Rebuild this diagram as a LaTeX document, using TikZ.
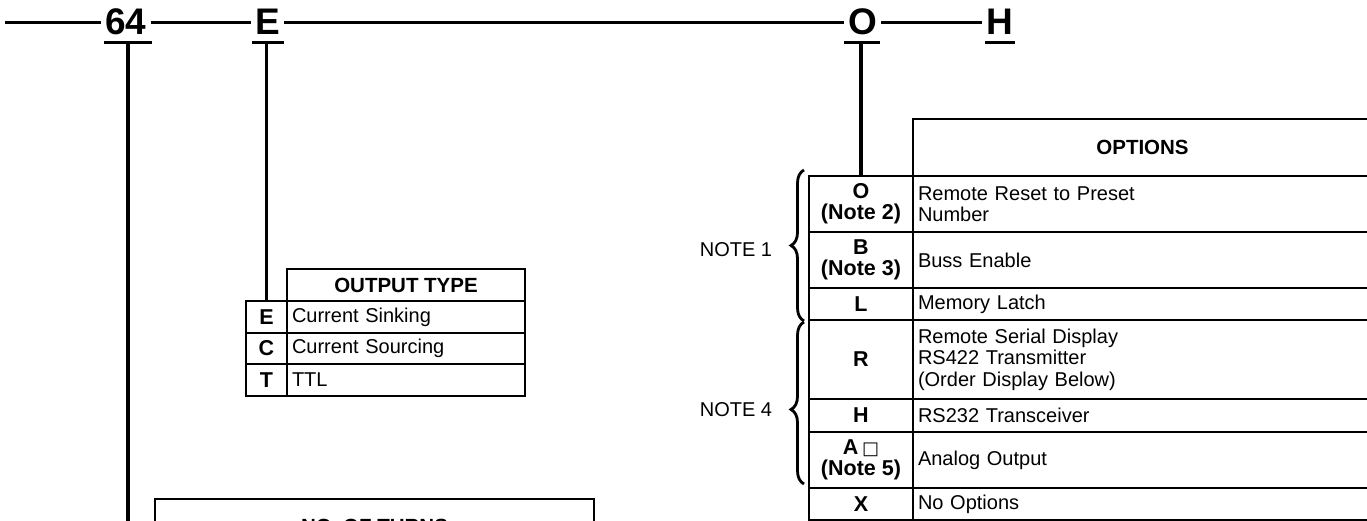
\documentclass[tikz,border=0pt]{standalone}
\usepackage{fontspec}
\setmainfont{Liberation Sans}
\newfontfamily\dejavu{DejaVu Sans}
\usetikzlibrary{decorations.pathreplacing}
\begin{document}
\begin{tikzpicture}[x=1pt,y=-1pt,
  code/.style={font=\fontsize{37}{37}\selectfont\bfseries, inner xsep=4pt, inner ysep=0pt, anchor=base},
  bar/.style={line width=3.5pt},
  ubar/.style={line width=3pt},
  stem/.style={line width=3.8pt},
  cellbox/.style={draw, line width=1.5pt, inner sep=0pt, outer sep=0pt, anchor=north west, font=\fontsize{20}{21.5}\selectfont},
  keyc/.style={cellbox, font=\fontsize{21.5}{21}\selectfont\bfseries, align=center},
  descc/.style={cellbox, inner xsep=5pt, align=left},
  headc/.style={cellbox, font=\fontsize{20.5}{21.5}\selectfont\bfseries, align=center},
  note/.style={font=\fontsize{20}{20}\selectfont, inner sep=0pt},
  brc/.style={decorate, decoration={brace, amplitude=13pt}, line width=2.8pt}
]
\useasboundingbox (0,0) rectangle (1367,521);
\fill[white] (0,0) rectangle (1367,521);
\clip (0,0) rectangle (1367,521);

% model code line
\node[code] (c64) at (126,35) {64};
\node[code] (cE) at (267.5,35) {E};
\node[code] (cO) at (862.5,35) {O};
\node[code] (cH) at (1000,35) {H};
\coordinate (start) at (5,22.7);
\draw[bar] (start) -- (start -| c64.west);
\draw[bar] (start -| c64.east) -- (start -| cE.west);
\draw[bar] (start -| cE.east) -- (start -| cO.west);
\draw[bar] (start -| cO.east) -- (start -| cH.west);

\coordinate (u64) at (127.7,43);
\coordinate (uE) at (266.5,43);
\coordinate (uO) at (861,43);
\coordinate (uH) at (1000,43);
\draw[ubar] (103.6,43) -- (151.8,43);
\draw[ubar] (252,43) -- (284,43);
\draw[ubar] (844,43) -- (880,43);
\draw[ubar] (985,43) -- (1015,43);

% output type table
\node[headc, minimum width=238pt, minimum height=32pt] (hOut) at (287,269) {OUTPUT TYPE};
\node[keyc, minimum width=41pt, minimum height=32pt] (kE) at (246,301) {E};
\node[descc, text width=228pt, minimum height=32pt] (dE) at (287,301) {Current Sinking};
\node[keyc, minimum width=41pt, minimum height=31pt] (kC) at (246,333) {C};
\node[descc, text width=228pt, minimum height=31pt] (dC) at (287,333) {Current Sourcing};
\node[keyc, minimum width=41pt, minimum height=32pt] (kT) at (246,364) {T};
\node[descc, text width=228pt, minimum height=32pt] (dT) at (287,364) {TTL};

% options table
\node[headc, minimum width=459pt, minimum height=57pt] (hOpt) at (913,119) {OPTIONS};
\node[keyc, minimum width=104pt, minimum height=56pt] (kO) at (809,176) {O\\(Note 2)};
\node[descc, text width=449pt, minimum height=56pt] (dO) at (913,176) {Remote Reset to Preset\\Number};
\node[keyc, minimum width=104pt, minimum height=56pt] (kB) at (809,232) {B\\(Note 3)};
\node[descc, text width=449pt, minimum height=56pt] (dB) at (913,232) {Buss Enable};
\node[keyc, minimum width=104pt, minimum height=32pt] (kL) at (809,288) {L};
\node[descc, text width=449pt, minimum height=32pt] (dL) at (913,288) {Memory Latch};
\node[keyc, minimum width=104pt, minimum height=79pt] (kR) at (809,320) {R};
\node[descc, text width=449pt, minimum height=79pt] (dR) at (913,320) {Remote Serial Display\\RS422 Transmitter\\(Order Display Below)};
\node[keyc, minimum width=104pt, minimum height=33pt] (kH) at (809,399) {H};
\node[descc, text width=449pt, minimum height=33pt] (dH) at (913,399) {RS232 Transceiver};
\node[keyc, minimum width=104pt, minimum height=56pt] (kA) at (809,432) {A\,{\dejavu\mdseries\fontsize{18}{18}\selectfont □}\\(Note 5)};
\node[descc, text width=449pt, minimum height=56pt] (dA) at (913,432) {Analog Output};
\node[keyc, minimum width=104pt, minimum height=32pt] (kX) at (809,488) {X};
\node[descc, text width=449pt, minimum height=32pt] (dX) at (913,488) {No Options};

% notes
\node[note] (n1) at (736,250) {NOTE 1};
\node[note] (n4) at (736,410) {NOTE 4};
\draw[brc] (804,321) -- (804,170);
\draw[brc, decoration={aspect=0.46}] (804,484) -- (804,322);

% number of turns table
\node[headc, minimum width=439pt, minimum height=54pt] (turns) at (155,499) {NO. OF TURNS};

% stems
\draw[stem] (u64) -- (u64 |- turns.south);
\draw[stem] (uE) -- (uE |- kE.north);
\draw[stem] (uO) -- (uO |- kO.north);
\end{tikzpicture}
\end{document}
